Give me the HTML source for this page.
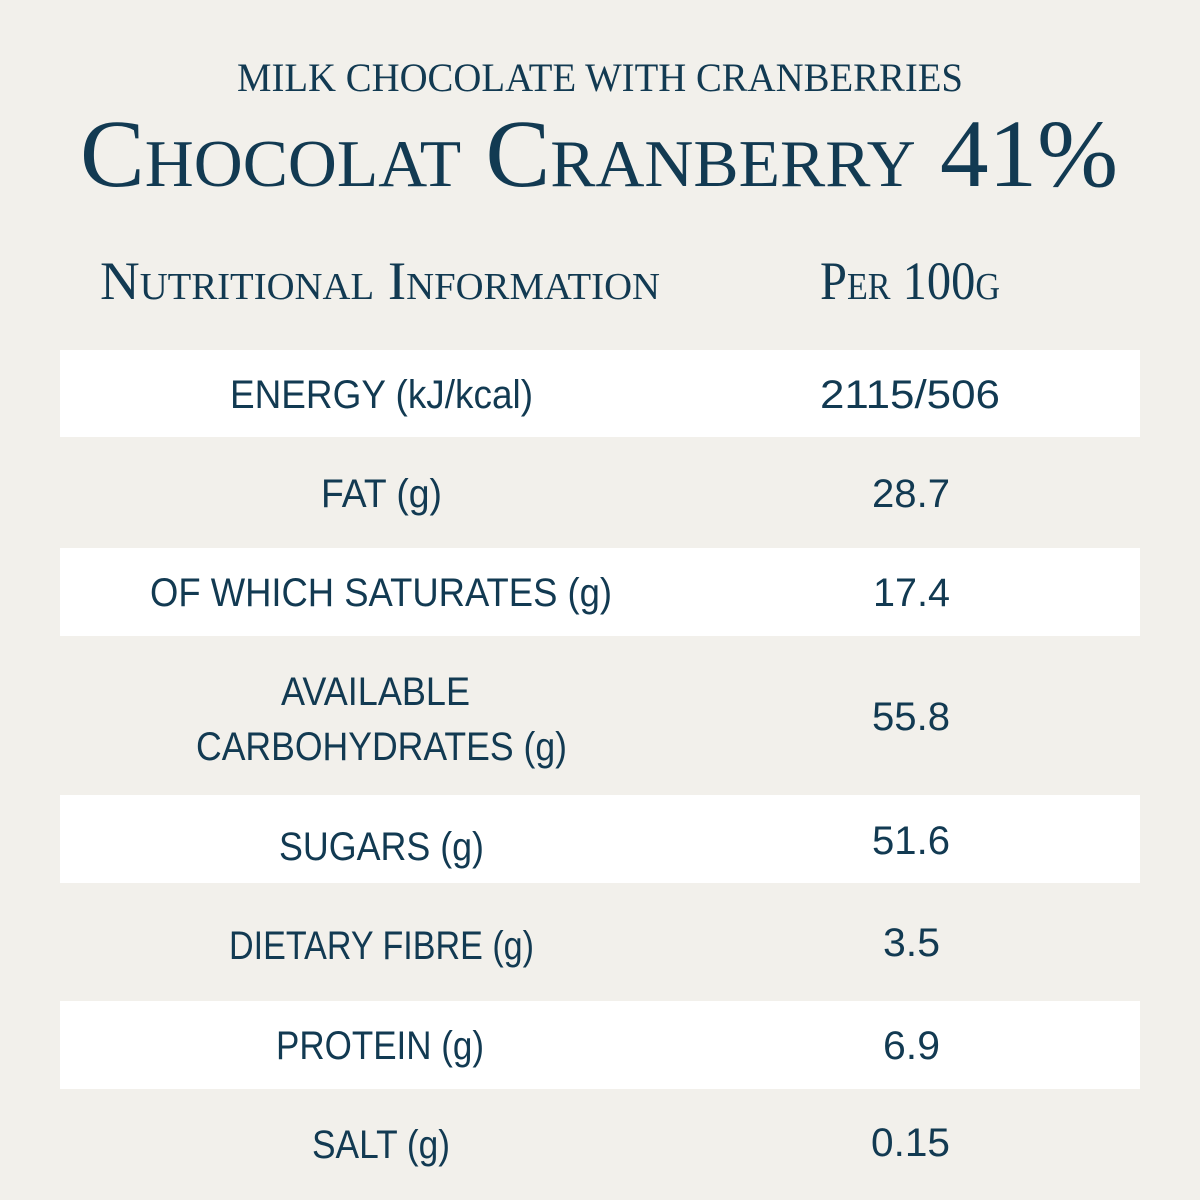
<!DOCTYPE html>
<html><head><meta charset="utf-8"><style>
html,body{margin:0;padding:0;background:#f2f0eb;}
svg{display:block;}
.serif{font-family:"Liberation Serif",serif;font-variant:small-caps;fill:#123a52;}
.sans{font-family:"Liberation Sans",sans-serif;fill:#123a52;font-size:40px;}
</style></head><body>
<svg width="1200" height="1200" viewBox="0 0 1200 1200">
<rect width="1200" height="1200" fill="#f2f0eb"/>
<text class="serif" x="237" y="91" font-size="40" textLength="726" lengthAdjust="spacingAndGlyphs">MILK CHOCOLATE WITH CRANBERRIES</text>
<text class="serif" x="80" y="186" font-size="96" textLength="1038" lengthAdjust="spacingAndGlyphs">Chocolat Cranberry 41%</text>
<text class="serif" x="100" y="299" font-size="54" textLength="560" lengthAdjust="spacingAndGlyphs">Nutritional Information</text>
<text class="serif" x="820" y="299" font-size="54" textLength="180" lengthAdjust="spacingAndGlyphs">Per 100g</text>

<rect x="60" y="350" width="1080" height="87" fill="#ffffff"/>
<rect x="60" y="548" width="1080" height="88" fill="#ffffff"/>
<rect x="60" y="795" width="1080" height="88" fill="#ffffff"/>
<rect x="60" y="1001" width="1080" height="88" fill="#ffffff"/>

<text class="sans" x="230" y="408" textLength="303" lengthAdjust="spacingAndGlyphs">ENERGY (kJ/kcal)</text>
<text class="sans" x="820" y="408" textLength="180" lengthAdjust="spacingAndGlyphs">2115/506</text>

<text class="sans" x="321" y="507" textLength="121" lengthAdjust="spacingAndGlyphs">FAT (g)</text>
<text class="sans" x="872" y="507" textLength="78" lengthAdjust="spacingAndGlyphs">28.7</text>

<text class="sans" x="150" y="606" textLength="462" lengthAdjust="spacingAndGlyphs">OF WHICH SATURATES (g)</text>
<text class="sans" x="873" y="606" textLength="77" lengthAdjust="spacingAndGlyphs">17.4</text>

<text class="sans" x="281" y="705" textLength="189" lengthAdjust="spacingAndGlyphs">AVAILABLE</text>
<text class="sans" x="196" y="760" textLength="371" lengthAdjust="spacingAndGlyphs">CARBOHYDRATES (g)</text>
<text class="sans" x="872" y="730" textLength="78" lengthAdjust="spacingAndGlyphs">55.8</text>

<text class="sans" x="279" y="860" textLength="205" lengthAdjust="spacingAndGlyphs">SUGARS (g)</text>
<text class="sans" x="872" y="854" textLength="78" lengthAdjust="spacingAndGlyphs">51.6</text>

<text class="sans" x="229" y="959" textLength="305" lengthAdjust="spacingAndGlyphs">DIETARY FIBRE (g)</text>
<text class="sans" x="883" y="956" textLength="57" lengthAdjust="spacingAndGlyphs">3.5</text>

<text class="sans" x="276" y="1059" textLength="208" lengthAdjust="spacingAndGlyphs">PROTEIN (g)</text>
<text class="sans" x="883" y="1059" textLength="57" lengthAdjust="spacingAndGlyphs">6.9</text>

<text class="sans" x="312" y="1158" textLength="138" lengthAdjust="spacingAndGlyphs">SALT (g)</text>
<text class="sans" x="871" y="1156" textLength="79" lengthAdjust="spacingAndGlyphs">0.15</text>
</svg>
</body></html>
